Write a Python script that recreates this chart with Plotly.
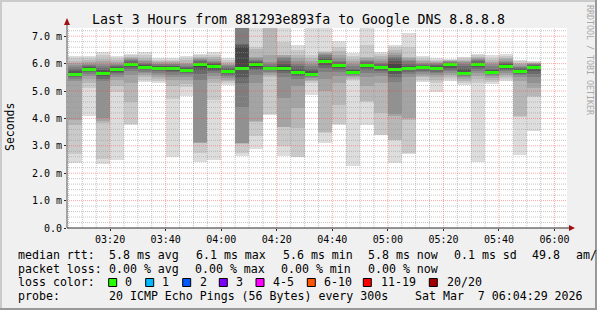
import plotly.graph_objects as go
import pandas as pd

# ---------------- data ----------------
graph_start = pd.Timestamp("2026-03-07 03:04:29")
graph_end = pd.Timestamp("2026-03-07 06:04:29")
bucket_end = pd.date_range("2026-03-07 03:10", "2026-03-07 05:55", freq="5min")

median_ms = [5.61, 5.78, 5.64, 5.78, 5.96, 5.86, 5.83, 5.83, 5.75, 5.96,
             5.89, 5.72, 5.83, 5.96, 5.83, 5.83, 5.68, 5.60, 6.07, 5.92,
             5.68, 5.92, 5.85, 5.78, 5.83, 5.85, 5.83, 5.96, 5.63, 5.97,
             5.68, 5.89, 5.72, 5.85]

# 20 sorted ping RTTs (ms) for every 5-minute step
pings_0310 = [2.37, 2.71, 3.75, 3.95, 5.35, 5.45, 5.52, 5.56, 5.59, 5.60, 5.62, 5.66, 5.72, 5.80, 5.88, 5.95, 6.02, 6.10, 6.20, 6.29]
pings_0315 = [4.07, 5.10, 5.30, 5.45, 5.55, 5.62, 5.68, 5.72, 5.75, 5.77, 5.79, 5.82, 5.86, 5.90, 5.95, 6.00, 6.05, 6.12, 6.20, 6.26]
pings_0320 = [2.34, 2.52, 3.85, 3.90, 4.00, 5.35, 5.45, 5.55, 5.60, 5.63, 5.65, 5.70, 5.78, 5.85, 5.92, 6.00, 6.08, 6.18, 6.30, 6.41]
pings_0325 = [2.47, 4.95, 5.20, 5.40, 5.50, 5.58, 5.65, 5.70, 5.74, 5.77, 5.79, 5.82, 5.86, 5.90, 5.95, 6.00, 6.06, 6.12, 6.20, 6.26]
pings_0330 = [3.77, 3.80, 4.60, 5.30, 5.60, 5.72, 5.80, 5.87, 5.92, 5.95, 5.97, 6.00, 6.04, 6.08, 6.12, 6.16, 6.20, 6.25, 6.30, 6.36]
pings_0335 = [5.34, 5.42, 5.50, 5.58, 5.65, 5.70, 5.75, 5.79, 5.83, 5.85, 5.87, 5.90, 5.94, 5.98, 6.03, 6.08, 6.14, 6.22, 6.32, 6.41]
pings_0340 = [5.30, 5.38, 5.45, 5.52, 5.60, 5.66, 5.72, 5.77, 5.80, 5.82, 5.84, 5.87, 5.90, 5.93, 5.97, 6.00, 6.05, 6.10, 6.15, 6.20]
pings_0345 = [2.58, 4.70, 5.20, 5.40, 5.50, 5.60, 5.68, 5.74, 5.79, 5.82, 5.84, 5.87, 5.90, 5.93, 5.97, 6.00, 6.05, 6.10, 6.15, 6.20]
pings_0350 = [4.80, 5.15, 5.25, 5.40, 5.50, 5.58, 5.64, 5.69, 5.72, 5.74, 5.76, 5.79, 5.83, 5.88, 5.93, 5.98, 6.04, 6.12, 6.20, 6.29]
pings_0355 = [2.41, 2.74, 3.10, 3.12, 3.15, 5.40, 5.62, 5.78, 5.88, 5.94, 5.97, 6.00, 6.04, 6.08, 6.12, 6.16, 6.20, 6.25, 6.30, 6.36]
pings_0400 = [2.49, 4.67, 5.30, 5.45, 5.55, 5.65, 5.72, 5.78, 5.83, 5.87, 5.90, 5.93, 5.97, 6.01, 6.06, 6.11, 6.17, 6.24, 6.32, 6.41]
pings_0405 = [5.23, 5.30, 5.38, 5.42, 5.48, 5.55, 5.60, 5.65, 5.69, 5.71, 5.73, 5.76, 5.80, 5.85, 5.90, 5.95, 6.00, 6.06, 6.13, 6.20]
pings_0410 = [2.61, 2.74, 3.08, 3.10, 3.12, 4.42, 5.30, 5.50, 5.75, 5.82, 5.84, 6.60, 6.68, 6.70, 7.40, 7.42, 7.44, 7.46, 7.48, 7.50]
pings_0415 = [2.88, 3.37, 3.88, 3.90, 5.30, 5.60, 5.75, 5.82, 5.88, 5.95, 5.97, 6.00, 6.05, 6.10, 6.15, 6.20, 6.25, 6.55, 6.62, 7.40]
pings_0420 = [4.13, 4.15, 5.50, 5.60, 5.66, 5.71, 5.75, 5.78, 5.81, 5.83, 5.84, 5.86, 5.89, 5.93, 5.98, 6.05, 6.30, 7.40, 7.45, 7.50]
pings_0425 = [2.61, 2.98, 3.68, 3.70, 4.73, 5.50, 5.65, 5.72, 5.78, 5.82, 5.84, 5.90, 6.00, 6.10, 6.20, 6.25, 6.30, 6.31, 6.80, 7.45]
pings_0430 = [2.58, 2.60, 3.65, 4.37, 5.20, 5.45, 5.55, 5.60, 5.65, 5.67, 5.69, 5.72, 5.80, 5.90, 6.00, 6.10, 6.20, 6.30, 6.50, 6.69]
pings_0435 = [4.85, 5.30, 5.38, 5.42, 5.46, 5.50, 5.53, 5.56, 5.58, 5.59, 5.61, 5.65, 5.72, 5.80, 5.90, 6.00, 6.10, 6.20, 6.30, 7.40]
pings_0440 = [3.12, 3.47, 3.50, 5.00, 5.45, 5.70, 5.85, 5.95, 6.02, 6.06, 6.08, 6.12, 6.18, 6.25, 6.30, 6.35, 6.38, 6.42, 6.45, 7.40]
pings_0445 = [3.75, 3.80, 4.50, 5.30, 5.55, 5.70, 5.78, 5.84, 5.88, 5.91, 5.93, 5.96, 6.00, 6.05, 6.10, 6.20, 6.30, 6.45, 6.60, 6.82]
pings_0450 = [2.27, 5.40, 5.45, 5.50, 5.55, 5.60, 5.63, 5.65, 5.67, 5.68, 5.69, 5.72, 5.76, 5.82, 5.90, 6.00, 6.08, 6.18, 6.28, 6.38]
pings_0455 = [3.77, 4.60, 4.65, 5.20, 5.50, 5.65, 5.75, 5.83, 5.88, 5.91, 5.93, 5.96, 6.00, 6.05, 6.10, 6.15, 6.20, 6.25, 6.68, 7.40]
pings_0500 = [3.38, 3.40, 4.20, 5.30, 5.55, 5.65, 5.72, 5.78, 5.82, 5.84, 5.86, 5.89, 5.93, 5.98, 6.04, 6.10, 6.18, 6.26, 6.35, 6.44]
pings_0505 = [2.39, 3.20, 3.22, 4.10, 4.15, 5.34, 5.50, 5.62, 5.72, 5.77, 5.79, 6.00, 6.10, 6.20, 6.25, 6.30, 6.40, 6.50, 6.60, 6.69]
pings_0510 = [2.70, 2.72, 3.95, 4.00, 5.50, 5.62, 5.70, 5.76, 5.80, 5.82, 5.84, 5.88, 5.93, 6.00, 6.08, 6.15, 6.20, 6.25, 6.60, 7.10]
pings_0515 = [5.34, 5.42, 5.50, 5.56, 5.62, 5.68, 5.74, 5.79, 5.82, 5.84, 5.86, 5.89, 5.92, 5.96, 6.00, 6.04, 6.09, 6.14, 6.20, 6.26]
pings_0520 = [4.97, 5.30, 5.42, 5.50, 5.58, 5.65, 5.70, 5.75, 5.80, 5.82, 5.84, 5.87, 5.90, 5.94, 5.98, 6.02, 6.06, 6.10, 6.15, 6.20]
pings_0525 = [5.37, 5.45, 5.52, 5.60, 5.66, 5.72, 5.78, 5.84, 5.90, 5.95, 5.97, 6.00, 6.02, 6.04, 6.06, 6.08, 6.10, 6.12, 6.14, 6.16]
pings_0530 = [5.22, 5.30, 5.38, 5.45, 5.50, 5.54, 5.57, 5.59, 5.61, 5.62, 5.64, 5.70, 5.80, 5.90, 5.98, 6.05, 6.10, 6.15, 6.20, 6.25]
pings_0535 = [2.41, 5.30, 5.45, 5.55, 5.65, 5.72, 5.80, 5.87, 5.92, 5.96, 5.98, 6.01, 6.04, 6.08, 6.12, 6.16, 6.20, 6.25, 6.30, 6.35]
pings_0540 = [5.24, 5.32, 5.40, 5.48, 5.55, 5.60, 5.63, 5.65, 5.67, 5.68, 5.69, 5.72, 5.76, 5.82, 5.90, 5.98, 6.05, 6.13, 6.22, 6.31]
pings_0545 = [5.36, 5.44, 5.52, 5.60, 5.66, 5.72, 5.77, 5.82, 5.86, 5.88, 5.90, 5.93, 5.97, 6.01, 6.06, 6.11, 6.16, 6.21, 6.27, 6.34]
pings_0550 = [2.65, 4.05, 4.10, 5.35, 5.50, 5.58, 5.63, 5.67, 5.70, 5.71, 5.73, 5.76, 5.80, 5.84, 5.88, 5.92, 5.97, 6.02, 6.08, 6.14]
pings_0555 = [3.53, 4.79, 4.82, 5.10, 5.30, 5.50, 5.62, 5.72, 5.80, 5.84, 5.86, 5.89, 5.92, 5.95, 5.97, 5.99, 6.01, 6.03, 6.05, 6.08]

ping_columns = [pings_0310, pings_0315, pings_0320, pings_0325, pings_0330, pings_0335,
                pings_0340, pings_0345, pings_0350, pings_0355, pings_0400, pings_0405,
                pings_0410, pings_0415, pings_0420, pings_0425, pings_0430, pings_0435,
                pings_0440, pings_0445, pings_0450, pings_0455, pings_0500, pings_0505,
                pings_0510, pings_0515, pings_0520, pings_0525, pings_0530, pings_0535,
                pings_0540, pings_0545, pings_0550, pings_0555]

y_ticks = [0, 1, 2, 3, 4, 5, 6, 7]
y_ticktext = ["0.0", "1.0 m", "2.0 m", "3.0 m", "4.0 m", "5.0 m", "6.0 m", "7.0 m"]

loss_labels = ["0", "1", "2", "3", "4-5", "6-10", "11-19", "20/20"]
loss_colors = ["#26ff00", "#00b8ff", "#0059ff", "#7e00ff", "#ff00ff", "#ff5500", "#ff0000", "#a10000"]

# ---------------- geometry ----------------
W, H = 597, 310
ML, MR, MT, MB = 67, 30, 28, 82
PW, PH = W - ML - MR, H - MT - MB
Y_MAX = 7.3
FONT = "DejaVu Sans Mono"


def px(x):
    return (x - ML) / PW


def py(y):
    return (H - MB - y) / PH


# bar geometry from time buckets (first bucket clipped at graph start)
starts = [max(e - pd.Timedelta(minutes=5), graph_start) for e in bucket_end]
centers = [s + (e - s) / 2 for s, e in zip(starts, bucket_end)]
widths = [(e - s).total_seconds() * 1000 for s, e in zip(starts, bucket_end)]

fig = go.Figure()

n_half = 10
for k in range(n_half):
    shade = int(190 / n_half * (n_half - (k + 1))) + 50
    col = "#%02x%02x%02x" % (shade, shade, shade)
    lo = [c[k] for c in ping_columns]
    hi = [c[19 - k] for c in ping_columns]
    fig.add_trace(go.Bar(x=centers, base=lo, y=[h - l for h, l in zip(hi, lo)],
                         width=widths, marker=dict(color=col, line=dict(width=0)),
                         hoverinfo="skip"))

band = 0.1
fig.add_trace(go.Bar(x=centers, base=[m - band / 2 for m in median_ms], y=[band] * len(median_ms),
                     width=widths, marker=dict(color=loss_colors[0], line=dict(width=0)),
                     hoverinfo="skip"))

shapes = []
# grid (drawn above the smoke like rrdtool)
t = pd.Timestamp("2026-03-07 03:05")
while t <= pd.Timestamp("2026-03-07 06:00"):
    major = t.minute % 20 == 0
    shapes.append(dict(type="line", xref="x", yref="y", x0=t, x1=t, y0=0, y1=Y_MAX,
                       layer="above",
                       line=dict(color="rgba(255,60,60,0.45)" if major else "rgba(150,150,150,0.55)",
                                 width=1, dash="1px,1px")))
    t += pd.Timedelta(minutes=5)
for i in range(1, int(Y_MAX / 0.2) + 1):
    v = i * 0.2
    major = i % 5 == 0
    shapes.append(dict(type="line", xref="paper", yref="y", x0=0, x1=1, y0=v, y1=v,
                       layer="above",
                       line=dict(color="rgba(255,60,60,0.45)" if major else "rgba(150,150,150,0.55)",
                                 width=1, dash="1px,1px")))

# axes with arrows
axis_col = "#2c2c2c"
arrow_col = "#a01010"
shapes.append(dict(type="line", xref="paper", yref="paper", x0=px(67), x1=px(571), y0=py(228), y1=py(228),
                   line=dict(color=axis_col, width=1), layer="above"))
shapes.append(dict(type="line", xref="paper", yref="paper", x0=px(67), x1=px(67), y0=py(228), y1=py(22),
                   line=dict(color="#555555", width=1), layer="above"))
shapes.append(dict(type="path", xref="paper", yref="paper",
                   path="M %f %f L %f %f L %f %f Z" % (px(569), py(225), px(575), py(228), px(569), py(231)),
                   fillcolor=arrow_col, line=dict(width=0), layer="above"))
shapes.append(dict(type="path", xref="paper", yref="paper",
                   path="M %f %f L %f %f L %f %f Z" % (px(64), py(25), px(67), py(18), px(70), py(25)),
                   fillcolor=arrow_col, line=dict(width=0), layer="above"))

# frame (3d shade)
shapes.append(dict(type="rect", xref="paper", yref="paper", x0=px(0), x1=px(2), y0=py(H), y1=py(0),
                   fillcolor="#cbcbcb", line=dict(width=0)))
shapes.append(dict(type="rect", xref="paper", yref="paper", x0=px(0), x1=px(W), y0=py(2), y1=py(0),
                   fillcolor="#cbcbcb", line=dict(width=0)))
shapes.append(dict(type="rect", xref="paper", yref="paper", x0=px(W - 2), x1=px(W), y0=py(H), y1=py(0),
                   fillcolor="#999999", line=dict(width=0)))
shapes.append(dict(type="rect", xref="paper", yref="paper", x0=px(0), x1=px(W), y0=py(H), y1=py(H - 2),
                   fillcolor="#999999", line=dict(width=0)))

ann = []


def text(x, y, s, size=12, anchor="left", color="black", angle=0):
    ann.append(dict(xref="paper", yref="paper", x=px(x), y=py(y), text=s, showarrow=False,
                    xanchor=anchor, yanchor="middle", textangle=angle,
                    font=dict(family=FONT, size=size, color=color)))


text(298, 19, "Last 3 Hours from 881293e893fa to Google DNS 8.8.8.8", size=13.2, anchor="center")
text(10, 127, "Seconds", size=11.5, anchor="center", angle=-90)
text(590, 60, "RRDTOOL / TOBI OETIKER", size=8.3, anchor="center", color="#a8a8a8", angle=90)

LS = 11.6
rows = [255, 268.5, 282.3, 296]
text(16, rows[0], "median rtt:", LS)
for xx, s in zip([107.3, 194, 280.7, 366, 451.7, 530, 574],
                 ["5.8 ms avg", "6.1 ms max", "5.6 ms min", "5.8 ms now", "0.1 ms sd", "49.8", "am/"]):
    text(xx, rows[0], s, LS)
text(16, rows[1], "packet loss:", LS)
for xx, s in zip([107.3, 193.3, 279.3, 366],
                 ["0.00 % avg", "0.00 % max", "0.00 % min", "0.00 % now"]):
    text(xx, rows[1], s, LS)
text(16, rows[2], "loss color:", LS)
box_x = [108.7, 145.7, 182.7, 219.3, 256, 307.3, 363.3, 429.3]
lab_x = [123.3, 160.3, 197.7, 234.3, 271, 321.7, 379.3, 445]
for bx, lx, lab, c in zip(box_x, lab_x, loss_labels, loss_colors):
    shapes.append(dict(type="rect", xref="paper", yref="paper", x0=px(bx), x1=px(bx + 8),
                       y0=py(286.5), y1=py(278.5), fillcolor=c, line=dict(color="black", width=1)))
    text(lx, rows[2], lab, LS)
text(16, rows[3], "probe:", LS)
text(107.3, rows[3], "20 ICMP Echo Pings (56 Bytes) every 300s", LS)
text(413.3, rows[3], "Sat Mar  7 06:04:29 2026", LS)

x_tickvals = pd.date_range("2026-03-07 03:20", "2026-03-07 06:00", freq="20min")

fig.update_layout(
    width=W, height=H, margin=dict(l=ML, r=MR, t=MT, b=MB, pad=0),
    paper_bgcolor="#f0f0f0", plot_bgcolor="#ffffff",
    barmode="overlay", bargap=0, showlegend=False, hovermode=False,
    shapes=shapes, annotations=ann,
    xaxis=dict(type="date", range=[graph_start, graph_end], tickvals=list(x_tickvals),
               ticktext=[t.strftime("%H:%M") for t in x_tickvals],
               showgrid=False, zeroline=False, showline=False,
               ticks="outside", ticklen=2, tickcolor=axis_col,
               tickfont=dict(family=FONT, size=10, color="black")),
    yaxis=dict(range=[0, Y_MAX], tickvals=y_ticks, ticktext=y_ticktext,
               showgrid=False, zeroline=False, showline=False,
               ticks="outside", ticklen=2, tickcolor=axis_col,
               tickfont=dict(family=FONT, size=10, color="black")),
)

fig.write_html("out.html", config={"displayModeBar": False})
